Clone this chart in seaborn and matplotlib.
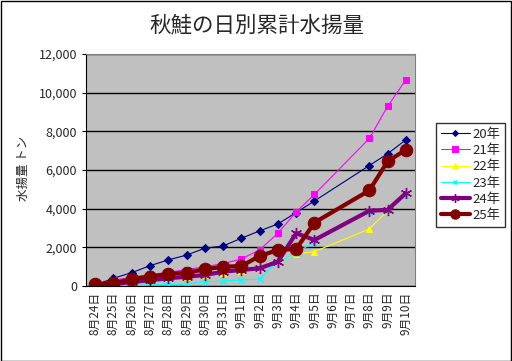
import numpy as np
import pandas as pd
import matplotlib
matplotlib.use("Agg")
import matplotlib.pyplot as plt
import seaborn as sns
from matplotlib.patches import Rectangle
from matplotlib.ticker import FuncFormatter, MultipleLocator

# categories (9/6, 9/7 have no data)
dates = ["8月24日", "8月25日", "8月26日", "8月27日", "8月28日", "8月29日",
         "8月30日", "8月31日", "9月1日", "9月2日", "9月3日", "9月4日",
         "9月5日", "9月6日", "9月7日", "9月8日", "9月9日", "9月10日"]
nan = np.nan
y20 = [50, 400, 690, 1050, 1350, 1600, 1950, 2070, 2470, 2850, 3210, 3800, 4400, nan, nan, 6230, 6840, 7560]
y21 = [30, 300, 450, 600, 700, 850, 1000, 1150, 1400, 1870, 2730, 3830, 4740, nan, nan, 7630, 9290, 10670]
y22 = [20, 80, 150, 250, 350, 450, 550, 650, 800, 930, 1300, 1660, 1780, nan, nan, 2950, 3900, 4800]
y23 = [0, 10, 30, 60, 80, 100, 220, 260, 310, 360, 1260, 1700, 2300, nan, nan, 3850, 3900, 4730]
y24 = [30, 100, 200, 300, 400, 480, 570, 740, 830, 915, 1260, 2730, 2380, nan, nan, 3890, 3940, 4800]
y25 = [100, 140, 360, 480, 620, 690, 860, 1000, 1030, 1550, 1865, 1915, 3280, nan, nan, 4940, 6440, 7050]
names = ["20年", "21年", "22年", "23年", "24年", "25年"]

sns.set_style("white")
plt.rcParams["font.family"] = ["Noto Sans CJK JP", "DejaVu Sans"]

fig = plt.figure(figsize=(5.12, 3.61), dpi=100)
ax = fig.add_axes([86 / 512, 1 - 286 / 361, (415 - 86) / 512, (286 - 54) / 361])
ax.set_facecolor("#C0C0C0")

styles = [
    dict(color="#000080", marker="D", markersize=4, linewidth=0.8),
    dict(color="#FF00FF", marker="s", markersize=5, linewidth=0.8),
    dict(color="#FFFF00", marker="^", markersize=5, linewidth=0.8),
    dict(color="#00FFFF", marker="x", markersize=4, linewidth=0.8, markeredgewidth=1),
    dict(color="#800080", marker=(6, 2, 0), markersize=8, linewidth=3, markeredgewidth=1),
    dict(color="#800000", marker="o", markersize=9, linewidth=3),
]

x = np.arange(len(dates))
for name, vals, st in zip(names, [y20, y21, y22, y23, y24, y25], styles):
    d = pd.DataFrame({"x": x, "y": vals}).dropna()
    sns.lineplot(data=d, x="x", y="y", ax=ax, label=name,
                 markeredgecolor=st["color"], **st)

ax.set_xlim(-0.5, len(dates) - 0.5)
ax.set_ylim(0, 12000)
ax.yaxis.set_major_locator(MultipleLocator(2000))
ax.yaxis.set_major_formatter(FuncFormatter(lambda v, p: f"{int(v):,}"))
ax.grid(axis="y", color="black", linewidth=1)
ax.set_axisbelow(True)
ax.set_xticks(x)
ax.set_xticklabels(dates, rotation=90, fontsize=8.5)
ax.set_xticks(np.arange(-0.5, len(dates)), minor=True)
ax.tick_params(axis="x", which="major", length=0, pad=4)
ax.tick_params(axis="x", which="minor", length=3, direction="in", color="black")
ax.tick_params(axis="y", labelsize=9, length=3, direction="out", left=True, color="black")
ax.set_xlabel("")
ax.set_ylabel("")

for s in ["top", "right"]:
    ax.spines[s].set_color("#808080")
for s in ["left", "bottom"]:
    ax.spines[s].set_color("black")

fig.text(257 / 512, 1 - 25 / 361, "秋鮭の日別累計水揚量", ha="center", va="center", fontsize=15.5)
fig.text(23 / 512, 1 - 168 / 361, "水揚量 トン", ha="center", va="center", rotation=90, fontsize=9)

leg = ax.legend(loc="upper left", bbox_to_anchor=(436 / 512, 1 - 123 / 361),
                bbox_transform=fig.transFigure, borderaxespad=0, fontsize=9.5,
                frameon=True, fancybox=False, edgecolor="black", handlelength=2.2,
                borderpad=0.35, labelspacing=0.25, handletextpad=0.2, markerscale=0.75)
leg.get_frame().set_linewidth(1)

fig.patches.append(Rectangle((0.001, 0.001), 0.997, 0.997, transform=fig.transFigure,
                             fill=False, edgecolor="black", linewidth=1))

fig.savefig("out.png", dpi=100)
